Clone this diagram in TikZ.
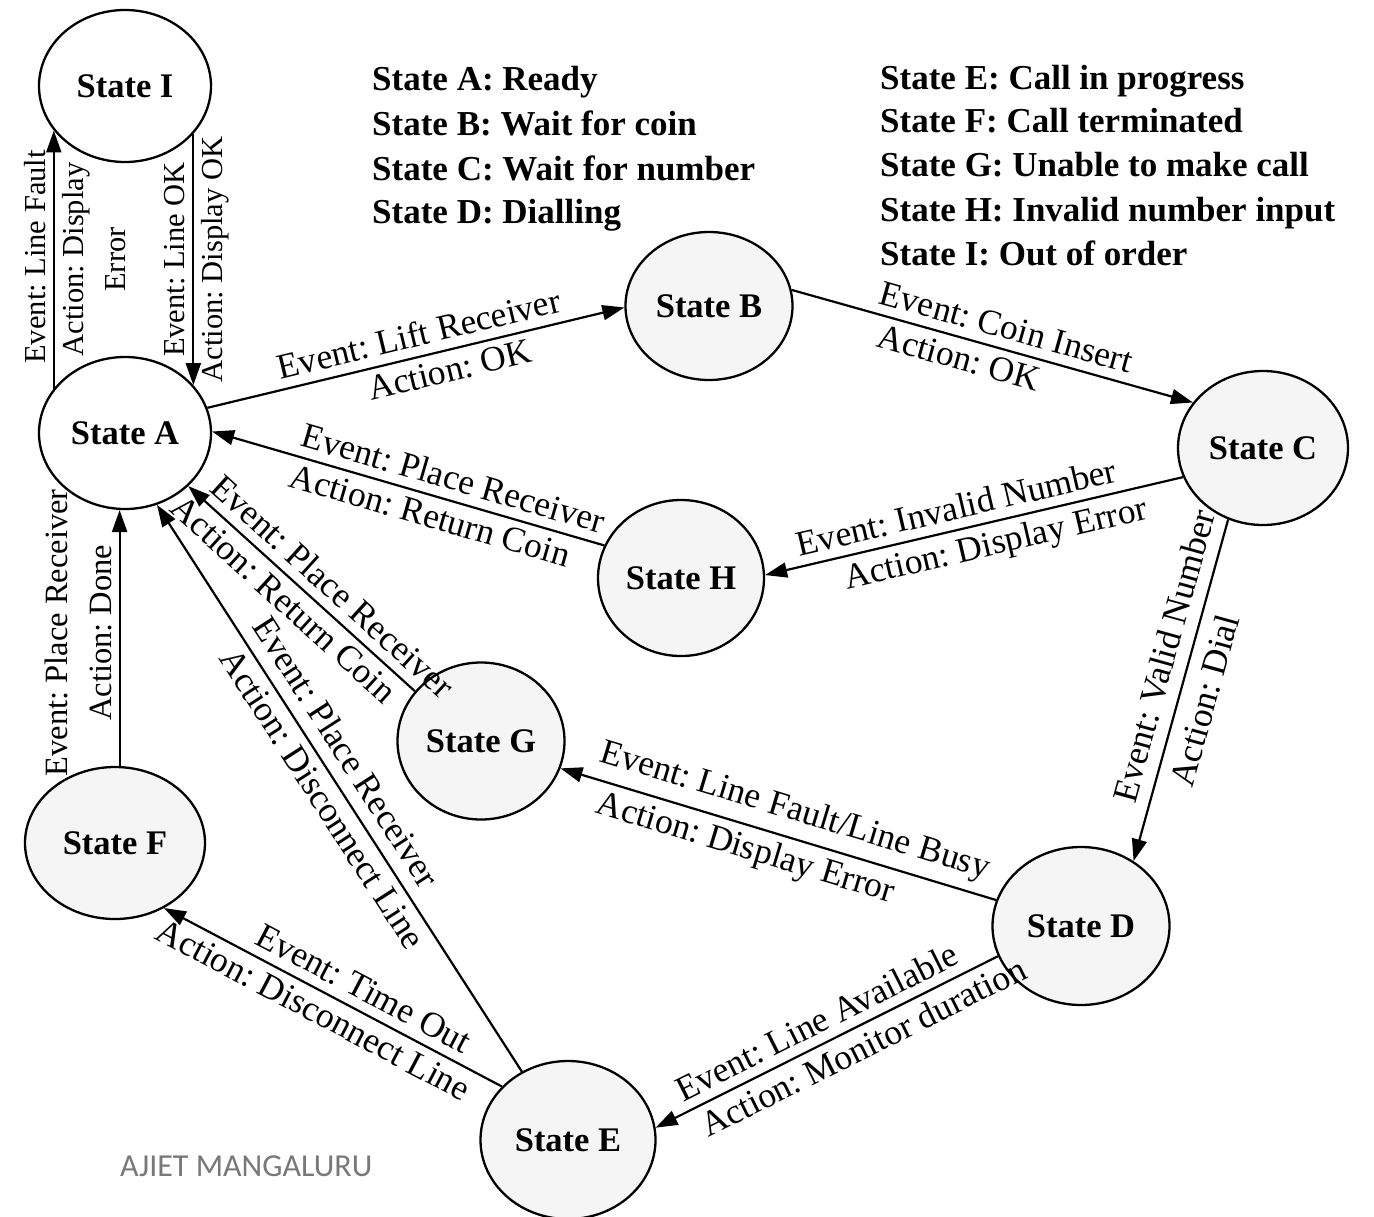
\documentclass[tikz,border=0pt]{standalone}
\usepackage{fontspec}
\setmainfont{Liberation Serif}
\newfontfamily\markfont{Carlito}
\usetikzlibrary{shapes.geometric,arrows.meta}

\definecolor{markgray}{RGB}{120,120,120}
\frenchspacing

\begin{document}
\begin{tikzpicture}[x=1pt,y=-1pt,
  state/.style={ellipse, draw, line width=2.3pt, inner sep=0pt,
    font=\fontsize{34.5}{40}\selectfont\bfseries, fill=black!4},
  trans/.style={line width=2.2pt, -{Triangle[length=22pt,width=15pt]}},
  rtrans/.style={line width=2.2pt, {Triangle[length=22pt,width=15pt]}-},
  lab/.style={font=\fontsize{35.5}{43}\selectfont, sloped,
    inner xsep=2pt, inner ysep=7pt},
  uplab/.style={lab, inner ysep=9pt},
  farlab/.style={lab, inner ysep=12pt},
  smalllab/.style={lab, font=\fontsize{30.5}{42}\selectfont},
  legend/.style={anchor=base west, inner sep=0pt,
    font=\fontsize{35}{40}\selectfont\bfseries},
]
% canvas
\fill[white] (0,0) rectangle (1374,1216);
\useasboundingbox (0,0) rectangle (1374,1216);

% states
\node[state, fill=white, minimum width=172pt, minimum height=152pt] (I) at (125,86)   {State I};
\node[state, fill=white, minimum width=172pt, minimum height=152pt] (A) at (125,433)  {State A};
\node[state, minimum width=167pt, minimum height=148pt] (B) at (709,306)  {State B};
\node[state, minimum width=170pt, minimum height=154pt] (C) at (1263,448) {State C};
\node[state, minimum width=166pt, minimum height=156pt] (H) at (681,578)  {State H};
\node[state, minimum width=167pt, minimum height=157pt] (G) at (481,741)  {State G};
\node[state, minimum width=180pt, minimum height=152pt] (F) at (115,843)  {State F};
\node[state, minimum width=177pt, minimum height=158pt] (D) at (1081,926) {State D};
\node[state, minimum width=175pt, minimum height=158pt] (E) at (568,1140) {State E};

% legend
\node[legend] (la) at (372,90)  {State A: Ready};
\node[legend] (lb) at (372,135) {State B: Wait for coin};
\node[legend] (lc) at (372,180) {State C: Wait for number};
\node[legend] (ld) at (372,223) {State D: Dialling};
\node[legend] (le) at (880,89)  {State E: Call in progress};
\node[legend] (lf) at (880,132) {State F: Call terminated};
\node[legend] (lg) at (880,176) {State G: Unable to make call};
\node[legend] (lh) at (880,221) {State H: Invalid number input};
\node[legend] (li) at (880,265) {State I: Out of order};

% transitions
\draw[trans] (A.148) -- (I.212)
  node[smalllab, above, pos=0.51] {Event: Line Fault}
  node[smalllab, below, pos=0.5, align=center] {Action: Display\\Error};
\draw[rtrans] (A.35) -- (I.325)
  node[smalllab, above, pos=0.5] {Event: Line OK}
  node[smalllab, below, pos=0.5] {Action: Display OK};
\draw[trans] (A.17) -- (B.181)
  node[uplab, above, pos=0.52] {Event: Lift Receiver}
  node[lab, below, pos=0.57] {Action: OK};
\draw[trans] (B.11) -- (C.147)
  node[uplab, above, pos=0.52] {Event: Coin Insert}
  node[lab, below, pos=0.43] {Action: OK};
\draw[rtrans] (A.1) -- (H.157)
  node[uplab, above, pos=0.6] {Event: Place Receiver}
  node[lab, below, pos=0.57] {Action: Return Coin};
\draw[rtrans] (H.2) -- (C.200)
  node[uplab, above, pos=0.47] {Event: Invalid Number}
  node[lab, below, pos=0.54] {Action: Display Error};
\draw[rtrans] (D.51) -- (C.244)
  node[farlab, above, pos=0.58] {Event: Valid Number}
  node[farlab, below, pos=0.49] {Action: Dial};
\draw[rtrans] (G.-19) -- (D.163)
  node[uplab, above, pos=0.52] {Event: Line Fault/Line Busy}
  node[lab, below, pos=0.44] {Action: Display Error};
\draw[rtrans] (E.8) -- (D.200)
  node[uplab, above, pos=0.5] {Event: Line Available}
  node[lab, below, pos=0.58] {Action: Monitor duration};
\draw[rtrans] (F.-53) -- (E.141)
  node[uplab, above, pos=0.56] {Event: Time Out}
  node[lab, below, pos=0.47] {Action: Disconnect Line};
\draw[rtrans] (A.-66) -- (E.124)
  node[farlab, above, pos=0.46] {Event: Place Receiver}
  node[lab, below, pos=0.5] {Action: Disconnect Line};
\draw[rtrans] (A.-40) -- (G.143)
  node[uplab, above, pos=0.57] {Event: Place Receiver}
  node[lab, below, pos=0.48] {Action: Return Coin};
\draw[trans] (A.-94 |- F.north) -- (A.-94)
  node[lab, above, pos=0.52, align=center,
       font=\fontsize{32.5}{44}\selectfont] {Event: Place Receiver\\Action: Done};

% watermark
\node[anchor=west, inner sep=0pt, text=markgray,
  font=\markfont\fontsize{32}{36}\selectfont] (wm) at (120,1166) {AJIET MANGALURU};
\end{tikzpicture}
\end{document}
